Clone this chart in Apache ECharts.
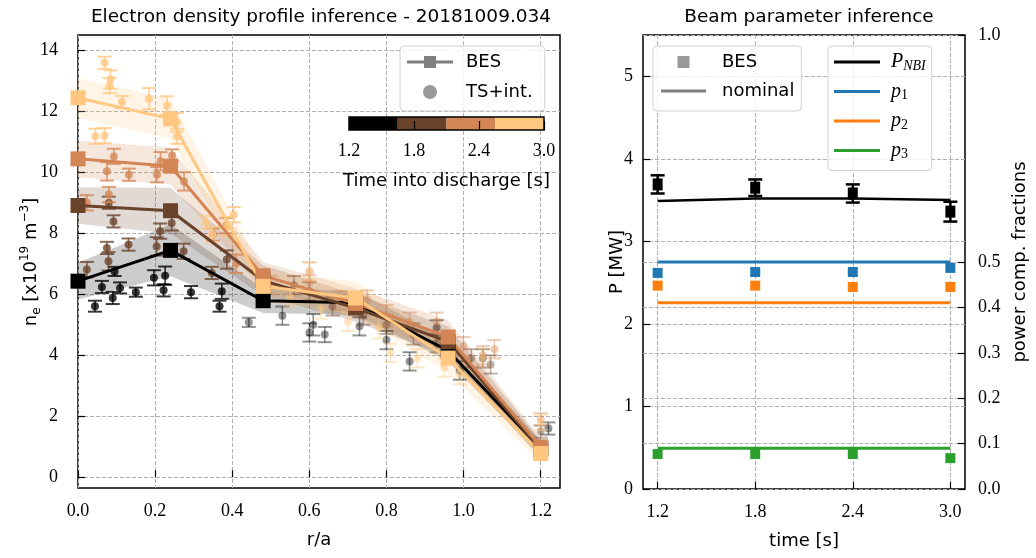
<!DOCTYPE html>
<html>
<head>
<meta charset="utf-8">
<script src="https://cdn.jsdelivr.net/npm/echarts@6/dist/echarts.min.js"></script>
<style>
  html, body { margin: 0; padding: 0; background: #fff; }
  #chart { width: 1036px; height: 558px; }
</style>
</head>
<body>
<div id="chart"></div>
<script>
// #region Data
const times = [1.2, 1.8, 2.4, 3.0];
const timeColors = ['#000000', '#6a422a', '#d48555', '#ffc77f'];
const cbEdges = [1.2, 1.65, 2.1, 2.55, 3.0];
const cbTicks = [1.2, 1.8, 2.4, 3.0];

// BES profiles
const besR = [0, 0.24, 0.48, 0.72, 0.96, 1.2];
const besNe12 = [6.43, 7.44, 5.79, 5.72, 4.15, 0.95];
const besNe18 = [8.91, 8.74, 6.45, 5.55, 4.45, 0.92];
const besNe24 = [10.44, 10.20, 6.61, 5.70, 4.60, 1.00];
const besNe30 = [12.44, 11.75, 6.26, 5.88, 3.91, 0.78];
// half width of the uncertainty band
const bandW12 = [0.6, 0.85, 0.4, 0.4, 0.35, 0.25];
const bandW18 = [0.6, 0.75, 0.5, 0.45, 0.5, 0.3];
const bandW24 = [0.6, 0.6, 0.45, 0.5, 0.55, 0.3];
const bandW30 = [0.65, 0.65, 0.5, 0.55, 0.5, 0.3];

// TS + interferometer points: [r/a, ne, error]
const ts12 = [
    [0.044, 5.61, 0.18], [0.062, 6.24, 0.2], [0.09, 5.88, 0.2], [0.095, 6.75, 0.15],
    [0.109, 6.21, 0.18], [0.15, 6.07, 0.15], [0.197, 6.54, 0.25], [0.226, 6.61, 0.3],
    [0.222, 6.13, 0.2], [0.293, 6.07, 0.2], [0.373, 6.10, 0.25], [0.367, 5.61, 0.18],
    [0.443, 5.08, 0.15], [0.53, 5.3, 0.3], [0.6, 4.75, 0.3], [0.61, 5.0, 0.35],
    [0.64, 4.68, 0.25], [0.73, 4.95, 0.3], [0.8, 4.5, 0.3], [0.86, 3.8, 0.3],
    [0.93, 4.9, 0.25], [0.99, 3.5, 0.3], [1.05, 3.9, 0.3], [1.22, 1.6, 0.2]
];
const ts18 = [
    [0.023, 6.81, 0.25], [0.075, 7.52, 0.2], [0.079, 7.08, 0.3], [0.092, 8.39, 0.2],
    [0.08, 9.0, 0.2], [0.131, 7.63, 0.2], [0.204, 7.57, 0.3], [0.213, 8.07, 0.25],
    [0.243, 8.34, 0.25], [0.274, 7.41, 0.25], [0.347, 6.7, 0.2], [0.386, 7.14, 0.3],
    [0.56, 6.3, 0.3], [0.6, 6.1, 0.3], [0.66, 5.6, 0.3], [0.74, 5.3, 0.3],
    [0.8, 5.0, 0.3], [0.87, 4.7, 0.35], [0.93, 4.4, 0.3], [1.02, 3.9, 0.3],
    [1.07, 3.7, 0.3], [1.2, 1.5, 0.2]
];
const ts24 = [
    [0.023, 9.0, 0.25], [0.075, 10.03, 0.3], [0.08, 9.27, 0.25], [0.093, 10.52, 0.25],
    [0.132, 9.92, 0.2], [0.205, 9.92, 0.25], [0.214, 10.36, 0.3], [0.244, 10.55, 0.2],
    [0.275, 9.7, 0.3], [0.35, 7.96, 0.2], [0.385, 8.25, 0.25], [0.41, 7.0, 0.3],
    [0.5, 6.3, 0.3], [0.6, 6.75, 0.3], [0.6, 6.38, 0.25], [0.68, 5.8, 0.3],
    [0.75, 5.83, 0.3], [0.8, 5.3, 0.35], [0.86, 5.1, 0.3], [0.93, 5.1, 0.3],
    [1.0, 4.3, 0.3], [1.05, 4.0, 0.3], [1.08, 4.2, 0.3], [1.2, 1.9, 0.2]
];
const ts30 = [
    [0.045, 11.18, 0.25], [0.069, 11.2, 0.25], [0.069, 13.59, 0.2], [0.084, 13.04, 0.3],
    [0.082, 12.84, 0.25], [0.114, 12.3, 0.2], [0.184, 12.41, 0.35], [0.231, 12.19, 0.3],
    [0.257, 11.64, 0.3], [0.257, 11.18, 0.25], [0.331, 8.36, 0.2], [0.348, 7.96, 0.25],
    [0.387, 8.23, 0.3], [0.404, 8.61, 0.25], [0.55, 5.9, 0.3], [0.6, 6.75, 0.3],
    [0.63, 5.5, 0.3], [0.7, 5.1, 0.3], [0.78, 4.9, 0.35], [0.81, 4.08, 0.3],
    [0.88, 3.9, 0.3], [0.95, 3.6, 0.3], [0.99, 3.4, 0.35], [1.05, 3.9, 0.3],
    [1.2, 1.8, 0.25]
];

// beam parameters
const beamTimes = [1.2, 1.8, 2.4, 3.0];
const pBES = [3.69, 3.65, 3.58, 3.36];
const pBESErr = [0.11, 0.10, 0.11, 0.12];
const pNBI = [3.49, 3.52, 3.52, 3.50];
const p1BES = [0.476, 0.478, 0.478, 0.487];
const p2BES = [0.448, 0.448, 0.445, 0.445];
const p3BES = [0.077, 0.077, 0.077, 0.068];
const pNominal = [0.50, 0.41, 0.09];
const compColors = ['#1f77b4', '#ff7f0e', '#2ca02c'];

// tick labels
const rTicks = [0, 0.2, 0.4, 0.6, 0.8, 1.0, 1.2];
const neTicks = [0, 2, 4, 6, 8, 10, 12, 14];
const tTicks = [1.2, 1.8, 2.4, 3.0];
const pTicks = [0, 1, 2, 3, 4, 5];
const fracTicks = [0, 0.1, 0.2, 0.3, 0.4, 0.5, 1.0];
// #endregion

const SANS = 'DejaVu Sans';
const SERIF = 'Liberation Serif';

const gridLine = { show: true, lineStyle: { color: '#b0b0b0', width: 1, type: [4, 2] } };
const tickStyle = { show: true, inside: true, length: 7, lineStyle: { color: '#000', width: 1.2 } };
const labelStyle = { fontFamily: SERIF, fontSize: 18, color: '#000' };
const nameStyle = { fontFamily: SANS, fontSize: 18, color: '#000' };
const titleStyle = { fontFamily: SANS, fontSize: 18.5, fontWeight: 'normal', color: '#000' };

// #region Helper
function bandSeries(ne, w, color) {
    return {
        type: 'custom', xAxisIndex: 0, yAxisIndex: 0, z: 1, silent: true,
        data: besR.map((r, i) => [r, ne[i], w[i]]),
        encode: { x: 0, y: 1 },
        renderItem: (params, api) => {
            if (params.dataIndex !== 0) return null;
            const up = [], dn = [];
            for (let i = 0; i < besR.length; i++) {
                up.push(api.coord([besR[i], ne[i] + w[i]]));
                dn.unshift(api.coord([besR[i], ne[i] - w[i]]));
            }
            return { type: 'polygon', shape: { points: up.concat(dn) }, style: { fill: color, opacity: 0.2 } };
        }
    };
}

function tsSeries(data, color) {
    return {
        type: 'custom', xAxisIndex: 0, yAxisIndex: 0, z: 3, silent: true,
        data: data,
        encode: { x: 0, y: 1 },
        renderItem: (params, api) => {
            const r = api.value(0), ne = api.value(1), err = api.value(2);
            const c = api.coord([r, ne]);
            const hi = api.coord([r, ne + err]);
            const lo = api.coord([r, ne - err]);
            const op = r < 0.42 ? 0.78 : 0.42;
            const st = { stroke: color, lineWidth: 1.6, opacity: op };
            const cap = { stroke: color, lineWidth: 2, opacity: op };
            return {
                type: 'group', children: [
                    { type: 'line', shape: { x1: c[0], y1: hi[1], x2: c[0], y2: lo[1] }, style: st },
                    { type: 'line', shape: { x1: c[0] - 7, y1: hi[1], x2: c[0] + 7, y2: hi[1] }, style: cap },
                    { type: 'line', shape: { x1: c[0] - 7, y1: lo[1], x2: c[0] + 7, y2: lo[1] }, style: cap },
                    { type: 'circle', shape: { cx: c[0], cy: c[1], r: 4 }, style: { fill: color, opacity: op } }
                ]
            };
        }
    };
}

function besSeries(ne, color) {
    return {
        type: 'line', xAxisIndex: 0, yAxisIndex: 0, z: 4, silent: true,
        data: besR.map((r, i) => [r, ne[i]]),
        symbol: 'rect', symbolSize: 15, showSymbol: true,
        color: color,
        lineStyle: { width: 3, color: color },
        itemStyle: { color: color }
    };
}

// rotated axis title, reading bottom to top
function sideTitle(x, y, text, rich) {
    return {
        type: 'text', x: x, y: y, rotation: Math.PI / 2, silent: true, z: 20,
        style: {
            text: text, fontFamily: SANS, fontSize: 18, fill: '#000',
            align: 'center', verticalAlign: 'middle', rich: rich
        }
    };
}
// #endregion

const lineIcon = 'path://M0,5.5H46V8.5H0Z';

const legendNames = {
    lBES: 'BES', lTS: 'TS+int.', rBES: 'BES', rNom: 'nominal',
    PNBI: '{it|P}{sub|NBI}', p1: '{it|p}{num|1}', p2: '{it|p}{num|2}', p3: '{it|p}{num|3}'
};

const series = [
    bandSeries(besNe12, bandW12, timeColors[0]),
    bandSeries(besNe18, bandW18, timeColors[1]),
    bandSeries(besNe24, bandW24, timeColors[2]),
    bandSeries(besNe30, bandW30, timeColors[3]),
    tsSeries(ts12, timeColors[0]),
    tsSeries(ts18, timeColors[1]),
    tsSeries(ts24, timeColors[2]),
    tsSeries(ts30, timeColors[3]),
    besSeries(besNe12, timeColors[0]),
    besSeries(besNe18, timeColors[1]),
    besSeries(besNe24, timeColors[2]),
    besSeries(besNe30, timeColors[3]),
    // legend stand-ins
    { type: 'line', name: 'lBES', data: [], color: '#808080', xAxisIndex: 0, yAxisIndex: 0 },
    { type: 'scatter', name: 'lTS', data: [], color: '#808080', symbol: 'circle', xAxisIndex: 0, yAxisIndex: 0 },
    { type: 'scatter', name: 'rBES', data: [], color: '#808080', symbol: 'rect', xAxisIndex: 1, yAxisIndex: 2 },
    { type: 'line', name: 'rNom', data: [], color: '#808080', xAxisIndex: 1, yAxisIndex: 2 },
    // colour bar
    {
        type: 'custom', xAxisIndex: 2, yAxisIndex: 4, z: 2, silent: true,
        data: cbEdges.slice(0, -1).map((e, i) => [e, cbEdges[i + 1], i]),
        encode: { x: [0, 1] },
        renderItem: (params, api) => {
            const a = api.coord([api.value(0), 1]);
            const b = api.coord([api.value(1), 0]);
            const kids = [{ type: 'rect', shape: { x: a[0], y: a[1], width: b[0] - a[0], height: b[1] - a[1] }, style: { fill: timeColors[api.value(2)] } }];
            if (params.dataIndex === cbEdges.length - 2) {
                const s = api.coord([cbEdges[0], 1]);
                kids.push({ type: 'rect', shape: { x: s[0], y: s[1], width: b[0] - s[0], height: b[1] - s[1] }, style: { fill: 'none', stroke: '#000', lineWidth: 1.5 } });
            }
            return { type: 'group', children: kids };
        }
    },
    // beam: P_NBI
    {
        type: 'line', name: 'PNBI', xAxisIndex: 1, yAxisIndex: 2, z: 3, silent: true,
        data: beamTimes.map((t, i) => [t, pNBI[i]]), symbol: 'none', color: '#000',
        lineStyle: { width: 2.5, color: '#000' }
    },
    // beam: BES power with error bars
    {
        type: 'custom', xAxisIndex: 1, yAxisIndex: 2, z: 4, silent: true,
        data: beamTimes.map((t, i) => [t, pBES[i], pBESErr[i]]),
        encode: { x: 0, y: 1 },
        renderItem: (params, api) => {
            const t = api.value(0), v = api.value(1), e = api.value(2);
            const c = api.coord([t, v]), hi = api.coord([t, v + e]), lo = api.coord([t, v - e]);
            const st = { stroke: '#000', lineWidth: 2.5 };
            return {
                type: 'group', children: [
                    { type: 'line', shape: { x1: c[0], y1: hi[1], x2: c[0], y2: lo[1] }, style: st },
                    { type: 'line', shape: { x1: c[0] - 7, y1: hi[1], x2: c[0] + 7, y2: hi[1] }, style: st },
                    { type: 'line', shape: { x1: c[0] - 7, y1: lo[1], x2: c[0] + 7, y2: lo[1] }, style: st },
                    { type: 'rect', shape: { x: c[0] - 5, y: c[1] - 6, width: 10, height: 12 }, style: { fill: '#000' } }
                ]
            };
        }
    }
];

// nominal fraction lines and BES fractions
const fracBES = [p1BES, p2BES, p3BES];
['p1', 'p2', 'p3'].forEach((n, k) => {
    series.push({
        type: 'line', name: n, xAxisIndex: 1, yAxisIndex: 3, z: 3, silent: true,
        data: [[beamTimes[0], pNominal[k]], [beamTimes[beamTimes.length - 1], pNominal[k]]],
        symbol: 'none', color: compColors[k], lineStyle: { width: 3, color: compColors[k] }
    });
    series.push({
        type: 'scatter', xAxisIndex: 1, yAxisIndex: 3, z: 4, silent: true,
        data: beamTimes.map((t, i) => [t, fracBES[k][i]]),
        symbol: 'rect', symbolSize: 10, color: compColors[k], itemStyle: { color: compColors[k], opacity: 1 }
    });
});

const legendBox = {
    orient: 'vertical', selectedMode: false,
    borderColor: '#d0d0d0', borderWidth: 1, borderRadius: 4,
    backgroundColor: 'rgba(255,255,255,0.8)',
    formatter: n => legendNames[n]
};

const neRich = {
    a: { fontFamily: SANS, fontSize: 18, lineHeight: 24, verticalAlign: 'middle', fill: '#000' },
    sub: { fontFamily: SANS, fontSize: 12, lineHeight: 12, verticalAlign: 'bottom', fill: '#000' },
    sup: { fontFamily: SANS, fontSize: 12, lineHeight: 12, verticalAlign: 'top', fill: '#000' }
};

const option = {
    animation: false,
    backgroundColor: '#fff',
    title: [
        { text: 'Electron density profile inference - 20181009.034', left: 316, top: 3, textAlign: 'center', textStyle: titleStyle },
        { text: 'Beam parameter inference', left: 804, top: 3, textAlign: 'center', textStyle: titleStyle }
    ],
    graphic: [
        sideTitle(31, 262, '{a|n}{sub|e}{a| [x10}{sup|19}{a| m}{sup|\u22123}{a|]}', neRich),
        sideTitle(617, 262, 'P [MW]'),
        sideTitle(1020, 262, 'power comp. fractions')
    ],
    legend: [
        Object.assign({}, legendBox, {
            left: 400, top: 46, padding: [6, 12, 9, 7],
            itemWidth: 46, itemHeight: 14, itemGap: 10,
            data: [{ name: 'lBES', icon: 'path://M0,5.5H46V8.5H0Z M17,1H29V13H17Z' }, { name: 'lTS', icon: 'circle' }],
            textStyle: { fontFamily: SANS, fontSize: 18, color: '#000', lineHeight: 20, padding: [0, 0, 0, 8] }
        }),
        Object.assign({}, legendBox, {
            left: 653, top: 46, padding: [6, 7, 10, 8],
            itemWidth: 45, itemHeight: 14, itemGap: 9,
            data: [{ name: 'rBES', icon: 'path://M0,0M14,14M1,1H13V13H1Z' }, { name: 'rNom', icon: lineIcon }],
            textStyle: { fontFamily: SANS, fontSize: 18, color: '#000', lineHeight: 20, padding: [0, 0, 0, 11] }
        }),
        Object.assign({}, legendBox, {
            left: 828, top: 46, padding: [5, 6, 9, 6],
            itemWidth: 46, itemHeight: 14, itemGap: 7.5,
            data: [{ name: 'PNBI', icon: lineIcon }, { name: 'p1', icon: lineIcon }, { name: 'p2', icon: lineIcon }, { name: 'p3', icon: lineIcon }],
            textStyle: {
                fontFamily: SERIF, fontSize: 18, color: '#000', lineHeight: 22, padding: [0, 0, 0, 6],
                rich: {
                    it: { fontFamily: SERIF, fontStyle: 'italic', fontSize: 20, lineHeight: 22, verticalAlign: 'middle', color: '#000' },
                    sub: { fontFamily: SERIF, fontStyle: 'italic', fontSize: 14, lineHeight: 14, verticalAlign: 'bottom', color: '#000' },
                    num: { fontFamily: SERIF, fontSize: 14, lineHeight: 14, verticalAlign: 'bottom', color: '#000' }
                }
            }
        })
    ],
    grid: [
        { left: 78, top: 35, width: 482, height: 453, show: true, borderColor: '#000', borderWidth: 1.5,
          backgroundColor: 'transparent', containLabel: false, outerBoundsMode: 'none' },
        { left: 643, top: 35, width: 322, height: 454, show: true, borderColor: '#000', borderWidth: 1.5,
          backgroundColor: 'transparent', containLabel: false, outerBoundsMode: 'none' },
        { left: 349, top: 117, width: 195, height: 13, show: false, containLabel: false, outerBoundsMode: 'none' }
    ],
    xAxis: [
        {
            gridIndex: 0, type: 'value', min: 0, max: 1.25,
            axisLine: { show: false },
            axisTick: Object.assign({}, tickStyle, { customValues: rTicks }),
            axisLabel: Object.assign({}, labelStyle, { customValues: rTicks, margin: 14, formatter: v => v.toFixed(1) }),
            splitLine: gridLine,
            name: 'r/a', nameLocation: 'middle', nameGap: 43, nameMoveOverlap: false, nameTextStyle: nameStyle
        },
        {
            gridIndex: 1, type: 'value', min: 1.11, max: 3.09,
            axisLine: { show: false },
            axisTick: Object.assign({}, tickStyle, { customValues: tTicks }),
            axisLabel: Object.assign({}, labelStyle, { customValues: tTicks, margin: 14, formatter: v => v.toFixed(1) }),
            splitLine: gridLine,
            name: 'time [s]', nameLocation: 'middle', nameGap: 43, nameMoveOverlap: false, nameTextStyle: nameStyle
        },
        {
            gridIndex: 2, type: 'value', min: 1.2, max: 3.0, z: 10,
            axisLine: { show: false },
            axisTick: { show: true, inside: true, length: 9, customValues: cbTicks, lineStyle: { color: '#000', width: 1.2 } },
            axisLabel: Object.assign({}, labelStyle, { customValues: cbTicks, margin: 12, formatter: v => v.toFixed(1) }),
            splitLine: { show: false },
            name: 'Time into discharge [s]', nameLocation: 'middle', nameGap: 42, nameMoveOverlap: false, nameTextStyle: nameStyle
        }
    ],
    yAxis: [
        {
            gridIndex: 0, type: 'value', min: -0.35, max: 14.5,
            axisLine: { show: false },
            axisTick: Object.assign({}, tickStyle, { customValues: neTicks }),
            axisLabel: Object.assign({}, labelStyle, { customValues: neTicks, margin: 20 }),
            splitLine: gridLine
        },
        { gridIndex: 0, type: 'value', min: -0.35, max: 14.5, show: false },
        {
            gridIndex: 1, type: 'value', min: 0, max: 5.5,
            axisLine: { show: false },
            axisTick: Object.assign({}, tickStyle, { customValues: pTicks }),
            axisLabel: Object.assign({}, labelStyle, { customValues: pTicks, margin: 10 }),
            splitLine: gridLine
        },
        {
            gridIndex: 1, type: 'value', min: 0, max: 1, position: 'right',
            axisLine: { show: false },
            axisTick: Object.assign({}, tickStyle, { customValues: fracTicks }),
            axisLabel: Object.assign({}, labelStyle, { customValues: fracTicks, margin: 13, formatter: v => v.toFixed(1) }),
            splitLine: gridLine
        },
        { gridIndex: 2, type: 'value', min: 0, max: 1, show: false }
    ],
    series: series
};

const chart = echarts.init(document.getElementById('chart'));
chart.setOption(option);
</script>
</body>
</html>
